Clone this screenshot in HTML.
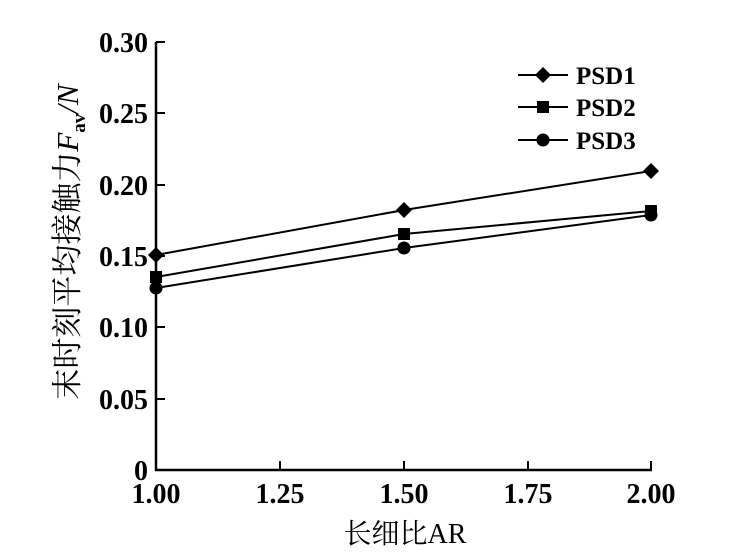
<!DOCTYPE html>
<html><head><meta charset="utf-8"><style>body{margin:0;background:#fff}svg{display:block}</style></head><body>
<svg width="746" height="555" xmlns="http://www.w3.org/2000/svg">
<g stroke="#000" stroke-width="2.5" fill="none">
<line x1="156" y1="42" x2="156" y2="471"/>
<line x1="155" y1="470" x2="652" y2="470"/>
</g>
<g stroke="#000" stroke-width="2">
<line x1="156" y1="42" x2="165" y2="42"/><line x1="156" y1="113" x2="165" y2="113"/><line x1="156" y1="185" x2="165" y2="185"/><line x1="156" y1="256" x2="165" y2="256"/><line x1="156" y1="327" x2="165" y2="327"/><line x1="156" y1="399" x2="165" y2="399"/>
<line x1="280" y1="470" x2="280" y2="461"/><line x1="404" y1="470" x2="404" y2="461"/><line x1="528" y1="470" x2="528" y2="461"/><line x1="651" y1="470" x2="651" y2="461"/>
</g>
<g font-family="Liberation Serif, serif" font-weight="bold" font-size="28" text-anchor="end" fill="#000">
<text x="148" y="52">0.30</text><text x="148" y="123">0.25</text><text x="148" y="195">0.20</text><text x="148" y="266">0.15</text><text x="148" y="337">0.10</text><text x="148" y="409">0.05</text><text x="148" y="480">0</text>
</g>
<g font-family="Liberation Serif, serif" font-weight="bold" font-size="28" text-anchor="middle" fill="#000">
<text x="156" y="503">1.00</text><text x="280" y="503">1.25</text><text x="404" y="503">1.50</text><text x="528" y="503">1.75</text><text x="651" y="503">2.00</text>
</g>
<text x="405" y="543" text-anchor="middle" font-family="Liberation Serif, 'Noto Serif CJK SC', serif" font-size="28">长细比AR</text>
<text transform="translate(78,242) rotate(-90)" text-anchor="middle" font-family="Liberation Serif, 'Noto Serif CJK SC', serif" font-size="31">末时刻平均接触力<tspan font-style="italic">F</tspan><tspan font-size="19" font-weight="bold" dy="7">av</tspan><tspan dy="-7" font-style="italic">/N</tspan></text>
<g stroke="#000" stroke-width="2" fill="none">
<polyline points="156,255 404,210 651,171"/>
<polyline points="156,277 404,234 651,211"/>
<polyline points="156,288 404,248 651,215"/>
<line x1="518" y1="75" x2="568" y2="75"/><line x1="518" y1="107" x2="568" y2="107"/><line x1="518" y1="140" x2="568" y2="140"/>
</g>
<g fill="#000">
<polygon points="156,247 164,255 156,263 148,255"/><polygon points="404,202 412,210 404,218 396,210"/><polygon points="651,163 659,171 651,179 643,171"/><polygon points="543,67 551,75 543,83 535,75"/>
<rect x="150" y="271" width="12" height="12"/><rect x="398" y="228" width="12" height="12"/><rect x="645" y="205" width="12" height="12"/><rect x="537" y="101" width="12" height="12"/>
<circle cx="156" cy="288" r="6.5"/><circle cx="404" cy="248" r="6.5"/><circle cx="651" cy="215" r="6.5"/><circle cx="543" cy="140" r="6.5"/>
</g>
<g font-family="Liberation Serif, serif" font-weight="bold" font-size="25" fill="#000">
<text x="576" y="84">PSD1</text><text x="576" y="116">PSD2</text><text x="576" y="149">PSD3</text>
</g>
</svg>
</body></html>
